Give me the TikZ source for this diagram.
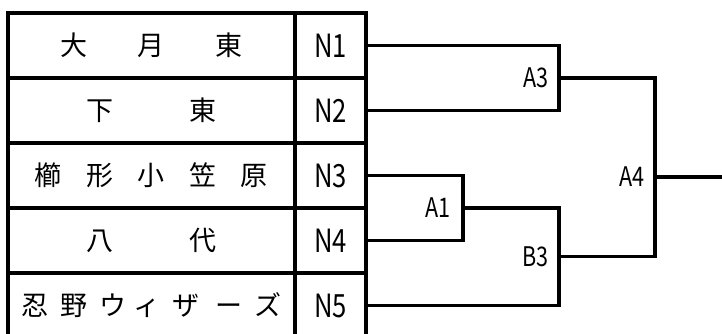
\documentclass[tikz,border=0pt]{standalone}
\usepackage{fontspec}
\setmainfont{Noto Sans CJK JP}
\usetikzlibrary{positioning}

\tikzset{
    tbl/.style={black, line width=3.2pt},
    bracket/.style={black, line width=3.2pt, line join=miter},
    team/.style={inner sep=0pt, anchor=center, font=\fontsize{27}{27}\selectfont},
    seed/.style={inner sep=0pt, anchor=center, xscale=0.8, font=\fontsize{32}{32}\selectfont},
    game/.style={inner sep=0pt, anchor=east, xscale=0.8, font=\fontsize{27}{27}\selectfont}
}

\begin{document}
\begin{tikzpicture}[x=1pt, y=-1pt]
\useasboundingbox (0,0) rectangle (722,334);

% table
\draw[tbl] (8,345) -- (8,13) -- (366,13) -- (366,345);
\draw[tbl] (295,13) -- (295,345);
\draw[tbl] (8,78) -- (366,78);
\draw[tbl] (8,143) -- (366,143);
\draw[tbl] (8,208) -- (366,208);
\draw[tbl] (8,273) -- (366,273);

% team names
\node[team] (t1) at (151.5, 45.5) {\makebox[78pt]{大}\makebox[78pt]{月}\makebox[78pt]{東}};
\node[team] (t2) at (151.5, 110.5) {\makebox[104pt]{下}\makebox[104pt]{東}};
\node[team] (t3) at (151.5, 175.5) {\makebox[51.5pt]{櫛}\makebox[51.5pt]{形}\makebox[51.5pt]{小}\makebox[51.5pt]{笠}\makebox[51.5pt]{原}};
\node[team] (t4) at (151.5, 240.5) {\makebox[104pt]{八}\makebox[104pt]{代}};
\node[team] (t5) at (151.5, 305.5) {\makebox[38.7pt]{忍}\makebox[38.7pt]{野}\makebox[38.7pt]{ウ}\makebox[30pt]{ィ}\makebox[47.4pt]{ザ}\makebox[38.7pt]{ー}\makebox[38.7pt]{ズ}};

% seeds
\node[seed] (n1) at (330.5, 45.5) {N1};
\node[seed] (n2) at (330.5, 110.5) {N2};
\node[seed] (n3) at (330.5, 175.5) {N3};
\node[seed] (n4) at (330.5, 240.5) {N4};
\node[seed] (n5) at (330.5, 305.5) {N5};

% bracket
\coordinate (p1) at (366, 45.5);
\coordinate (p2) at (366, 110.5);
\coordinate (p3) at (366, 175.5);
\coordinate (p4) at (366, 240.5);
\coordinate (p5) at (366, 305.5);
\coordinate (a1) at (463, 208);
\coordinate (a3) at (559, 78);
\coordinate (b3) at (559, 256.5);
\coordinate (a4) at (655, 177);
\coordinate (win) at (722, 177);

\draw[bracket] (p1) -| (a3) |- (p2);
\draw[bracket] (p3) -| (a1) |- (p4);
\draw[bracket] (a1) -| (b3) |- (p5);
\draw[bracket] (a3) -| (a4) |- (b3);
\draw[bracket] (a4) -- (win);

\node[game] (la1) at ([xshift=-12pt]a1) {A1};
\node[game] (la3) at ([xshift=-10pt]a3) {A3};
\node[game] (lb3) at ([xshift=-10pt]b3) {B3};
\node[game] (la4) at ([xshift=-10pt]a4) {A4};

\end{tikzpicture}
\end{document}
